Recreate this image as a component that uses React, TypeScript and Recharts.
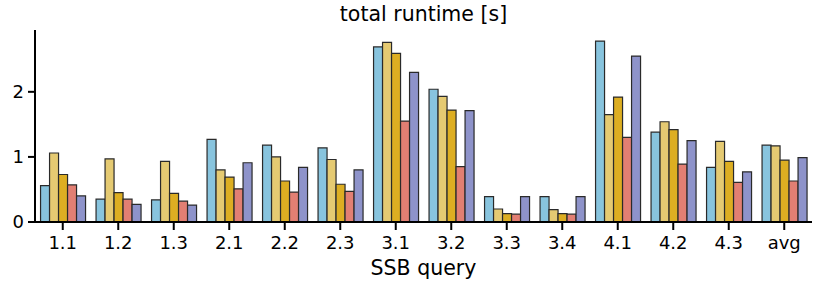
import React from 'react';
import { BarChart, Bar, XAxis, YAxis } from 'recharts';

const categories = ['1.1', '1.2', '1.3', '2.1', '2.2', '2.3', '3.1', '3.2', '3.3', '3.4', '4.1', '4.2', '4.3', 'avg'];
const seriesA = [0.56, 0.35, 0.34, 1.27, 1.18, 1.14, 2.69, 2.04, 0.39, 0.39, 2.78, 1.38, 0.84, 1.18];
const seriesB = [1.06, 0.97, 0.93, 0.80, 1.00, 0.96, 2.76, 1.93, 0.20, 0.19, 1.65, 1.54, 1.24, 1.17];
const seriesC = [0.73, 0.45, 0.44, 0.69, 0.63, 0.58, 2.59, 1.72, 0.13, 0.13, 1.92, 1.42, 0.93, 0.95];
const seriesD = [0.57, 0.35, 0.32, 0.51, 0.46, 0.47, 1.55, 0.85, 0.12, 0.12, 1.30, 0.89, 0.61, 0.63];
const seriesE = [0.40, 0.27, 0.26, 0.91, 0.84, 0.80, 2.30, 1.71, 0.39, 0.39, 2.55, 1.25, 0.77, 0.99];
const yTicks = [0, 1, 2];

const seriesKeys = ['a', 'b', 'c', 'd', 'e'];
const colors = ['#88c4de', '#e5ca72', '#ddae22', '#e27f73', '#8e93ca'];

const data = categories.map((c, i) => ({
  name: c,
  a: seriesA[i],
  b: seriesB[i],
  c: seriesC[i],
  d: seriesD[i],
  e: seriesE[i],
}));

const FONT = '"DejaVu Sans", sans-serif';

export default function App() {
  return (
    <div style={{ position: 'absolute', left: 0, top: 0, width: 830, height: 289, background: '#fff', fontFamily: FONT }}>
      <div style={{ position: 'absolute', left: 35, width: 777, top: 1, textAlign: 'center', fontSize: 20.5, color: '#000', lineHeight: '26px' }}>
        total runtime [s]
      </div>
      <div style={{ position: 'absolute', left: 35, width: 777, top: 255, textAlign: 'center', fontSize: 20.5, color: '#000', lineHeight: '26px' }}>
        SSB query
      </div>
      <BarChart
        width={830}
        height={289}
        data={data}
        margin={{ top: 30, right: 18, bottom: 27, left: 0 }}
        barCategoryGap="10%"
        barGap={0}
      >
        <YAxis
          width={35}
          domain={[0, 2.95]}
          ticks={yTicks}
          allowDataOverflow
          axisLine={{ stroke: '#000', strokeWidth: 2 }}
          tickLine={{ stroke: '#000', strokeWidth: 2 }}
          tickSize={7}
          tickMargin={4}
          tick={{ fill: '#000', fontSize: 18, fontFamily: FONT }}
        />
        <XAxis
          dataKey="name"
          height={40}
          interval={0}
          axisLine={{ stroke: '#000', strokeWidth: 2 }}
          tickLine={{ stroke: '#000', strokeWidth: 2 }}
          tickSize={8}
          tickMargin={6}
          tick={{ fill: '#000', fontSize: 18, fontFamily: FONT }}
        />
        {seriesKeys.map((k, i) => (
          <Bar key={k} dataKey={k} fill={colors[i]} stroke="#2a2a2a" strokeWidth={1.2} isAnimationActive={false} />
        ))}
      </BarChart>
    </div>
  );
}
